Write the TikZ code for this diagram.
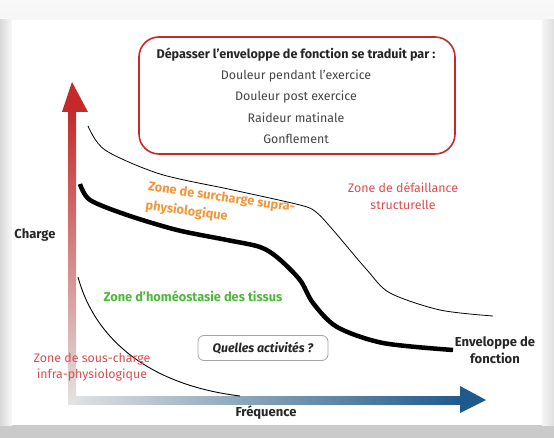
\documentclass[tikz,border=0pt]{standalone}
\usepackage{fontspec}
\setmainfont{Fira Sans}
\usepackage{tikz}
\usetikzlibrary{calc}

\definecolor{axisred}{HTML}{C42A2A}
\definecolor{axisblue}{HTML}{1E5A8C}
\definecolor{zoneorange}{HTML}{F2963A}
\definecolor{zonegreen}{HTML}{4DB83A}
\definecolor{zonered}{HTML}{DC4E4E}
\definecolor{textgrey}{HTML}{454545}

\tikzset{
  zonetext/.style={font=\fontsize{12.4}{16.5}\selectfont, align=center, inner sep=0pt},
  strongzone/.style={zonetext, font=\fontsize{12.8}{18.5}\selectfont\bfseries},
  axistext/.style={font=\fontsize{13}{16.5}\selectfont\bfseries, text=black!85, inner sep=0pt},
  boxline/.style={font=\fontsize{12.4}{14}\selectfont, text=textgrey, inner sep=0pt},
}

\begin{document}
\begin{tikzpicture}[x=1pt,y=-1pt]
        \useasboundingbox (0,0) rectangle (554,438);

        % background and panel
        \shade[top color=gray!5, bottom color=gray!42] (0,0) rectangle (554,438);
        \shade[left color=gray!30, right color=gray!5] (0,20) rectangle (12,425);
        \shade[left color=gray!8, right color=gray!25] (542,20) rectangle (554,425);
        \fill[white] (12,20) rectangle (542,425);

        % axes
        \shade[left color=gray!22, right color=axisblue] (68,396) rectangle (462,404);
        \fill[axisblue] (460,386) -- (486,400) -- (460,413) -- cycle;
        \shade[top color=axisred, bottom color=gray!22] (68,110) rectangle (76,404);
        \fill[axisred] (62,112) -- (72,82) -- (88,112) -- cycle;

        \node[axistext] (charge) at (35,235) {Charge};
        \node[axistext] (freq) at (266,413) {Fréquence};

        % curves
        \draw[line width=0.8pt] plot[smooth, tension=0.5] coordinates {(88,126) (105,150)
        (160,174) (233,190) (300,205) (316,212) (333,230) (367,270) (390,293)
        (440,310) (493,316)};

        \draw[line width=4.5pt] plot[smooth, tension=0.5] coordinates {(80,184) (90,200)
        (127,215) (177,230) (227,240) (260,247) (278,258) (300,280) (313,303)
        (337,327) (383,343) (453,350)};

        \draw[line width=0.9pt] (78,277) .. controls (95,340) and (150,385) .. (240,396);

        % box of symptoms
        \draw[axisred, line width=1.6pt, rounded corners=20pt] (139,37) rectangle (455,154);
        \node[boxline, font=\fontsize{12.6}{14}\selectfont\bfseries, text=black!85]
        (head) at (296,55) {Dépasser l’enveloppe de fonction se traduit par :};
        \node[boxline] (pain) at (296,76) {Douleur pendant l’exercice};
        \node[boxline] (post) at (296,97) {Douleur post exercice};
        \node[boxline] (stiff) at (296,118) {Raideur matinale};
        \node[boxline] (swell) at (296,139) {Gonflement};

        % zones
        \node[strongzone, text=zoneorange, align=left, rotate=-8, anchor=north west]
        (supra) at (149,181) {Zone de surcharge supra-\\physiologique};
        \node[zonetext, text=zonered] (fail) at (403,196) {Zone de défaillance\\structurelle};
        \node[strongzone, text=zonegreen] (homeo) at (193,296) {Zone d’homéostasie des tissus};
        \node[zonetext, text=zonered] (infra) at (92,367) {Zone de sous-charge\\infra-physiologique};
        \node[axistext, align=center] (env) at (495,350) {Enveloppe de\\fonction};

        \node[draw=gray!70, line width=0.8pt, rounded corners=6pt, minimum width=130pt,
        minimum height=25pt, font=\fontsize{12.4}{14}\selectfont\bfseries\itshape, text=black!85]
        (act) at (263,348) {Quelles activités ?};
    \end{tikzpicture}
\end{document}
